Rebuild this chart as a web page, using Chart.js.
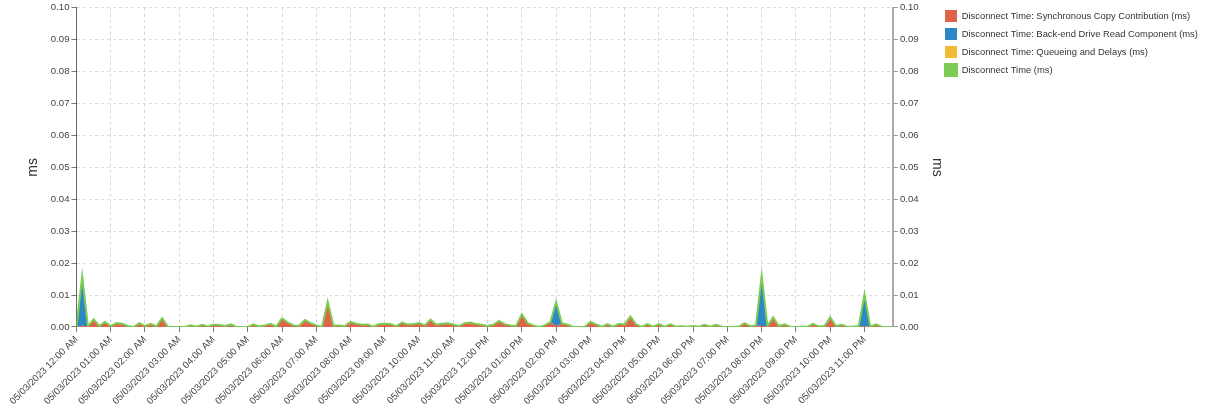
<!DOCTYPE html>
<html>
<head>
<meta charset="utf-8">
<script src="https://cdn.jsdelivr.net/npm/chart.js@4.4.0/dist/chart.umd.min.js"></script>
<style>
html,body{margin:0;padding:0;background:#fff;}
#wrap{position:relative;width:1207px;height:409px;}
</style>
</head>
<body>
<div id="wrap"><canvas id="c" width="1207" height="409"></canvas></div>
<script>
// Hour tick labels (one every 6 samples of 10 minutes)
const hourLabels = [
  "05/03/2023 12:00 AM","05/03/2023 01:00 AM","05/03/2023 02:00 AM","05/03/2023 03:00 AM",
  "05/03/2023 04:00 AM","05/03/2023 05:00 AM","05/03/2023 06:00 AM","05/03/2023 07:00 AM",
  "05/03/2023 08:00 AM","05/03/2023 09:00 AM","05/03/2023 10:00 AM","05/03/2023 11:00 AM",
  "05/03/2023 12:00 PM","05/03/2023 01:00 PM","05/03/2023 02:00 PM","05/03/2023 03:00 PM",
  "05/03/2023 04:00 PM","05/03/2023 05:00 PM","05/03/2023 06:00 PM","05/03/2023 07:00 PM",
  "05/03/2023 08:00 PM","05/03/2023 09:00 PM","05/03/2023 10:00 PM","05/03/2023 11:00 PM"
];
const seriesNames = [
  "Disconnect Time: Synchronous Copy Contribution (ms)",
  "Disconnect Time: Back-end Drive Read Component (ms)",
  "Disconnect Time: Queueing and Delays (ms)",
  "Disconnect Time (ms)"
];
const yTicks = [0,0.01,0.02,0.03,0.04,0.05,0.06,0.07,0.08,0.09,0.10];

// 144 samples, 10-minute intervals
const syncCopy = [
  0,0.0004,0.0002,0.0024,0.0003,0.0016,0.0003,0.0012,0.001,0.0003,0,0.0012,
  0.0003,0.001,0.0002,0.0027,0.0001,0,0,0,0.0005,0.0001,0.0007,0.0002,
  0.0007,0.0006,0.0003,0.0008,0.0001,0,0,0.0008,0.0002,0.0005,0.001,0.0001,
  0.0027,0.0014,0.0005,0.0004,0.0022,0.0012,0.0005,0,0.0079,0.0005,0.0005,0.0003,
  0.0016,0.001,0.0007,0.0008,0.0001,0.0009,0.001,0.0009,0.0002,0.0014,0.0008,0.0009,
  0.0012,0.0005,0.0023,0.0007,0.001,0.0012,0.0008,0.0003,0.0012,0.0014,0.0009,0.0007,
  0.0003,0.0007,0.0019,0.0009,0.0005,0.0003,0.004,0.0012,0.0005,0,0.0005,0.0015,
  0.0002,0.0012,0.0007,0,0,0,0.0016,0.0008,0.0001,0.0009,0.0001,0.001,
  0.0008,0.0033,0.0008,0.0001,0.0009,0.0001,0.0009,0.0001,0.0008,0.0001,0.0002,0.0001,
  0.0003,0.0001,0.0007,0.0001,0.0007,0.0001,0,0.0001,0.0001,0.0012,0.0003,0.0005,
  0.0003,0.0003,0.003,0.0003,0.0008,0.0001,0,0.0001,0.0001,0.001,0.0002,0.0003,
  0.003,0.0003,0.0007,0.0001,0.0001,0.0003,0.0002,0.0001,0.0008,0.0001,0,0
];
const driveRead = [
  0,0.0155,0,0,0,0,0,0,0,0,0,0,
  0,0,0,0,0,0,0,0,0,0,0,0,
  0,0,0,0,0,0,0,0,0,0,0,0,
  0,0,0,0,0,0,0,0,0,0,0,0,
  0,0,0,0,0,0,0,0,0,0,0,0,
  0,0,0,0,0,0,0,0,0,0,0,0,
  0,0,0,0,0,0,0,0,0,0,0,0,
  0.0076,0,0,0,0,0,0,0,0,0,0,0,
  0,0,0,0,0,0,0,0,0,0,0,0,
  0,0,0,0,0,0,0,0,0,0,0,0,
  0.0158,0,0,0,0,0,0,0,0,0,0,0,
  0,0,0,0,0,0,0.01,0,0,0,0,0
];
const queueing = [
  0,0,0,0,0,0,0,0,0,0,0,0,0,0,0,0,0,0,0,0,0,0,0,0,
  0,0,0,0,0,0,0,0,0,0,0,0,0,0,0,0,0,0,0,0,0,0,0,0,
  0,0,0,0,0,0,0,0,0,0,0,0,0,0,0,0,0,0,0,0,0,0,0,0,
  0,0,0,0,0,0,0,0,0,0,0,0,0,0,0,0,0,0,0,0,0,0,0,0,
  0,0,0,0,0,0,0,0,0,0,0,0,0,0,0,0,0,0,0,0,0,0,0,0,
  0,0,0,0,0,0,0,0,0,0,0,0,0,0,0,0,0,0,0,0,0,0,0,0
];
const disconnectTotal = [
  0,0.0159,0.0002,0.0024,0.0003,0.0016,0.0003,0.0012,0.001,0.0003,0,0.0012,
  0.0003,0.001,0.0002,0.0027,0.0001,0,0,0,0.0005,0.0001,0.0007,0.0002,
  0.0007,0.0006,0.0003,0.0008,0.0001,0,0,0.0008,0.0002,0.0005,0.001,0.0001,
  0.0027,0.0014,0.0005,0.0004,0.0022,0.0012,0.0005,0,0.0079,0.0005,0.0005,0.0003,
  0.0016,0.001,0.0007,0.0008,0.0001,0.0009,0.001,0.0009,0.0002,0.0014,0.0008,0.0009,
  0.0012,0.0005,0.0023,0.0007,0.001,0.0012,0.0008,0.0003,0.0012,0.0014,0.0009,0.0007,
  0.0003,0.0007,0.0019,0.0009,0.0005,0.0003,0.004,0.0012,0.0005,0,0.0005,0.0015,
  0.0078,0.0012,0.0007,0,0,0,0.0016,0.0008,0.0001,0.0009,0.0001,0.001,
  0.0008,0.0033,0.0008,0.0001,0.0009,0.0001,0.0009,0.0001,0.0008,0.0001,0.0002,0.0001,
  0.0003,0.0001,0.0007,0.0001,0.0007,0.0001,0,0.0001,0.0001,0.0012,0.0003,0.0005,
  0.0161,0.0003,0.003,0.0003,0.0008,0.0001,0,0.0001,0.0001,0.001,0.0002,0.0003,
  0.003,0.0003,0.0007,0.0001,0.0001,0.0003,0.0102,0.0001,0.0008,0.0001,0,0
];

const colors = ["#e0624a", "#2b87c6", "#f2bb35", "#7ccb52"];
const toPts = arr => arr.map((v, i) => ({x: i, y: v}));
const FONT = "'Liberation Sans', Arial, sans-serif";
const FS = 9.6;

// Shift the legend so its first swatch starts right after the right axis block
const legendShift = {
  id: 'legendShift',
  afterLayout(chart) {
    const lg = chart.legend;
    if (!lg) return;
    const w = lg.right - lg.left;
    lg.left = 939;
    lg.right = 939 + w;
  }
};

new Chart(document.getElementById('c'), {
  type: 'line',
  plugins: [legendShift],
  data: {
    datasets: [
      {label: seriesNames[0], data: toPts(syncCopy), stack: 'parts', backgroundColor: colors[0], borderColor: colors[0], borderWidth: 0, fill: 'origin', pointRadius: 0},
      {label: seriesNames[1], data: toPts(driveRead), stack: 'parts', backgroundColor: colors[1], borderColor: colors[1], borderWidth: 0, fill: '-1', pointRadius: 0},
      {label: seriesNames[2], data: toPts(queueing), stack: 'parts', backgroundColor: colors[2], borderColor: colors[2], borderWidth: 0, fill: '-1', pointRadius: 0},
      {label: seriesNames[3], data: toPts(disconnectTotal), stack: 'total', backgroundColor: colors[3], borderColor: colors[3], borderWidth: 2, fill: false, pointRadius: 0, order: -1}
    ]
  },
  options: {
    responsive: false,
    animation: false,
    events: [],
    layout: {padding: {left: 19, top: 4, right: 0, bottom: 0}},
    elements: {line: {tension: 0}},
    plugins: {
      legend: {
        position: 'right', align: 'start', maxWidth: 261.5,
        labels: {boxWidth: 12, boxHeight: 12, padding: 6, color: '#333', font: {family: FONT, size: 9.4},
          sort: (a, b) => a.datasetIndex - b.datasetIndex}
      },
      tooltip: {enabled: false}
    },
    scales: {
      x: {
        type: 'linear', min: 0, max: 143,
        afterBuildTicks: s => { s.ticks = hourLabels.map((_, k) => ({value: k * 6})); },
        ticks: {autoSkip: false, maxRotation: 45, minRotation: 45, color: '#444', padding: 2,
          font: {family: FONT, size: FS}, callback: v => hourLabels[Math.round(v / 6)] || ''},
        grid: {color: '#d8d8d8', tickColor: '#777', tickLength: 5},
        border: {color: '#bbb', dash: [3, 3]}
      },
      y: {
        position: 'left', stacked: true, min: 0, max: 0.1,
        afterBuildTicks: s => { s.ticks = yTicks.map(v => ({value: v})); },
        ticks: {color: '#444', padding: 2, font: {family: FONT, size: FS}, callback: v => Number(v).toFixed(2)},
        grid: {color: '#dcdcdc', tickColor: '#777', tickLength: 5},
        border: {color: '#666', width: 1, dash: [3, 3]},
        title: {display: true, text: 'ms', color: '#333', font: {family: FONT, size: 14}, padding: {top: 6, bottom: 7}}
      },
      y1: {
        position: 'right', min: 0, max: 0.1,
        afterBuildTicks: s => { s.ticks = yTicks.map(v => ({value: v})); },
        ticks: {color: '#444', padding: 2, font: {family: FONT, size: FS}, callback: v => Number(v).toFixed(2)},
        grid: {drawOnChartArea: false, color: '#999', tickColor: '#999', tickLength: 5},
        border: {color: '#aaa', width: 2},
        title: {display: true, text: 'ms', color: '#333', font: {family: FONT, size: 14}, padding: {top: 0, bottom: 8}}
      }
    }
  }
});
</script>
</body>
</html>
